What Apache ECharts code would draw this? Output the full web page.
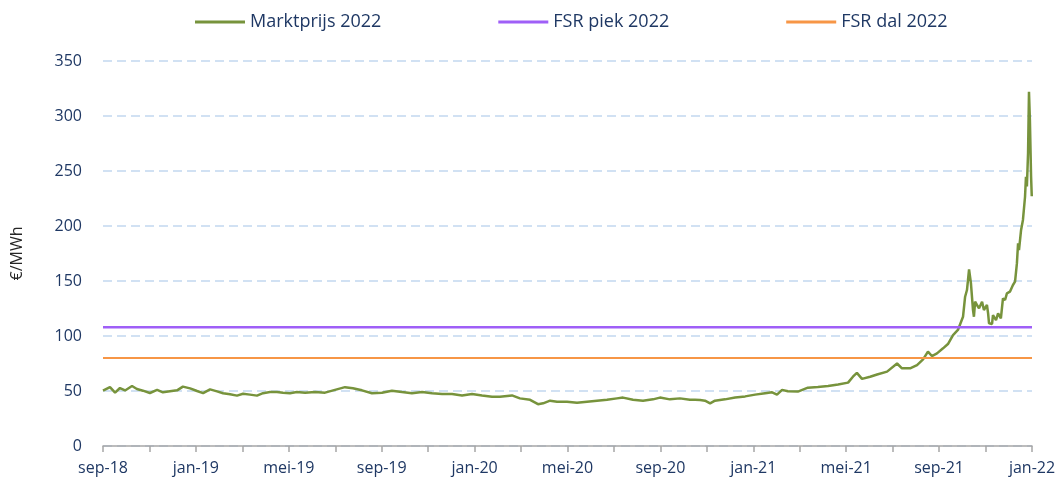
<!DOCTYPE html>
<html>
<head>
<meta charset="utf-8">
<script src="https://cdn.jsdelivr.net/npm/echarts@6/dist/echarts.min.js"></script>
<style>
    html, body { margin: 0; padding: 0; background: #fff; }
    #chart { width: 1062px; height: 486px; }
</style>
</head>
<body>
<div id="chart"></div>
<script>
    // x-as: maanden sinds sep-18 (0 = sep-18, 40 = jan-22)
    var tickLabels = ['sep-18', 'jan-19', 'mei-19', 'sep-19', 'jan-20', 'mei-20',
        'sep-20', 'jan-21', 'mei-21', 'sep-21', 'jan-22'];

    var maand = [0, 0.30, 0.52, 0.73, 0.95, 1.25, 1.46, 1.72, 2.02, 2.33, 2.58, 2.88, 3.19, 3.44, 3.75,
        4.05, 4.31, 4.61, 4.91, 5.17, 5.47, 5.77, 6.03, 6.33, 6.63, 6.89, 7.19, 7.49, 7.75, 8.05, 8.35,
        8.70, 9.13, 9.56, 9.99, 10.42, 10.76, 11.15, 11.58, 12.01, 12.44, 12.87, 13.30, 13.74, 14.17,
        14.60, 15.03, 15.46, 15.89, 16.32, 16.75, 17.09, 17.61, 17.95, 18.39, 18.73, 18.95, 19.25, 19.55,
        19.98, 20.41, 20.84, 21.27, 21.70, 22.13, 22.39, 22.82, 23.25, 23.68, 23.98, 24.41, 24.84, 25.27,
        25.49, 25.71, 25.92, 26.14, 26.35, 26.78, 27.22, 27.65, 28.08, 28.51, 28.81, 29.02, 29.24, 29.49,
        29.92, 30.35, 30.78, 31.22, 31.65, 32.08, 32.29, 32.46, 32.68, 33.03, 33.33, 33.76, 34.19, 34.40,
        34.75, 35.05, 35.31, 35.52, 35.69, 35.91, 36.17, 36.38, 36.60, 36.81, 37.03, 37.12, 37.20, 37.29,
        37.37, 37.46, 37.50, 37.55, 37.63, 37.72, 37.85, 37.93, 38.06, 38.11, 38.15, 38.28, 38.32, 38.45,
        38.54, 38.66, 38.75, 38.84, 38.92, 39.05, 39.18, 39.27, 39.35, 39.40, 39.44, 39.53, 39.61, 39.70,
        39.74, 39.78, 39.83, 39.87, 39.91, 39.96, 39.99];

    var marktprijs = [50.3, 53.6, 48.5, 52.7, 50.5, 54.5, 51.8, 50.3, 48.2, 51, 48.8, 49.7, 50.6, 54, 52.4,
        50, 48, 51.5, 49.7, 48, 47, 45.8, 47.5, 46.7, 45.8, 48, 49, 49, 48.5, 48, 49,
        48.5, 49, 48.5, 51, 53.5, 52.5, 50.6, 48, 48.5, 50.3, 49, 48, 49, 48,
        47.3, 47.3, 46, 47.3, 46, 44.8, 44.8, 46, 43.3, 42, 38, 38.8, 41.2, 40.3,
        40.3, 39.4, 40.3, 41.2, 42, 43.3, 44, 42, 41.2, 42.4, 44, 42.4, 43.3, 42,
        42, 41.8, 41.2, 38.8, 41.2, 42.4, 44, 45.1, 46.7, 48, 48.8, 46.7, 51, 49.7,
        49.5, 53, 53.6, 54.5, 56, 57.6, 63, 66.5, 61, 63, 65, 67.6, 75, 70.6,
        70.6, 73.6, 78.8, 85.8, 81.8, 84.2, 88.8, 92.7, 100.9, 105.5, 117.5, 135.7, 141.8, 160.6,
        148, 123.6, 117.5, 131.2, 128.2, 125.2, 131.2, 123.6, 128.2, 120.6, 111.5, 111, 119, 114.5,
        120.6, 116, 134.2, 132.7, 138.8, 140.3, 146.4, 149.4, 166, 184.2, 178, 196.4, 205.5, 226.6,
        244.8, 236, 266, 322, 296, 245, 227];

    var fsrPiek = 108;
    var fsrDal = 80;

    var textColor = '#1F3864';
    var fontName = 'Open Sans';

    var lijn = function (v) {
        return [[0, v], [40, v]];
    };

    var myChart = echarts.init(document.getElementById('chart'), null, {renderer: 'canvas'});

    var option = {
        animation: false,
        textStyle: {fontFamily: fontName},
        legend: {
            top: 8,
            left: 190,
            itemWidth: 50,
            itemHeight: 3,
            itemGap: 117,
            icon: 'rect',
            textStyle: {color: textColor, fontSize: 18, fontFamily: fontName},
            data: ['Marktprijs 2022', 'FSR piek 2022', 'FSR dal 2022']
        },
        grid: {left: 103, right: 30, top: 61, bottom: 40},
        xAxis: {
            type: 'value',
            min: 0,
            max: 40,
            interval: 2,
            splitLine: {show: false},
            axisLine: {lineStyle: {color: '#A6A6A6', width: 1.5}},
            axisTick: {length: 6, lineStyle: {color: '#A6A6A6', width: 1.5}},
            axisLabel: {
                color: textColor,
                fontSize: 16,
                margin: 14,
                formatter: function (v) {
                    return v % 4 === 0 ? tickLabels[v / 4] : '';
                }
            }
        },
        yAxis: {
            type: 'value',
            min: 0,
            max: 350,
            interval: 50,
            name: '€/MWh',
            nameLocation: 'middle',
            nameGap: 78,
            nameTextStyle: {color: '#262626', fontSize: 16},
            axisLine: {show: false},
            axisTick: {show: false},
            axisLabel: {color: textColor, fontSize: 16, margin: 21},
            splitLine: {lineStyle: {color: '#C2D7F0', type: [9, 5], width: 1.5}}
        },
        series: [
            {
                name: 'Marktprijs 2022',
                type: 'line',
                data: maand.map(function (m, i) { return [m, marktprijs[i]]; }),
                showSymbol: false,
                color: '#77933C',
                lineStyle: {width: 2.5},
                z: 3
            },
            {
                name: 'FSR piek 2022',
                type: 'line',
                data: lijn(fsrPiek),
                showSymbol: false,
                color: '#9F5FF7',
                lineStyle: {width: 2.5}
            },
            {
                name: 'FSR dal 2022',
                type: 'line',
                data: lijn(fsrDal),
                showSymbol: false,
                color: '#F79646',
                lineStyle: {width: 2}
            }
        ]
    };

    myChart.setOption(option);
</script>
</body>
</html>
